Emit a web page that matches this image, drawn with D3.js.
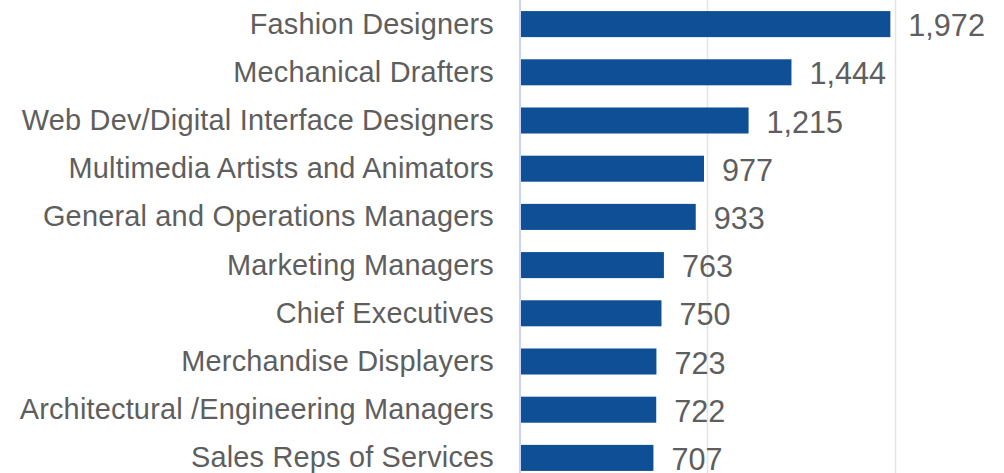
<!DOCTYPE html>
<html>
<head>
<meta charset="utf-8">
<script src="https://cdn.jsdelivr.net/npm/d3@7"></script>
<style>
    body { margin: 0; background: #fff; }
    .cat-label { font-family: "Liberation Sans", Arial, sans-serif; font-size: 28.9px; letter-spacing: 0.2px; fill: #5e5e5e; }
    .val-label { font-family: "Liberation Sans", Arial, sans-serif; font-size: 30.6px; fill: #5e5e5e; }
</style>
</head>
<body>
<div id="chart"></div>
<script>
// data
let occupations = [
    "Fashion Designers",
    "Mechanical Drafters",
    "Web Dev/Digital Interface Designers",
    "Multimedia Artists and Animators",
    "General and Operations Managers",
    "Marketing Managers",
    "Chief Executives",
    "Merchandise Displayers",
    "Architectural /Engineering Managers",
    "Sales Reps of Services"
];
let counts = [1972, 1444, 1215, 977, 933, 763, 750, 723, 722, 707];
let gridTicks = [1000, 2000];

let width = 1004, height = 473;

let svg = d3.select("#chart").append("svg")
    .attr("width", width)
    .attr("height", height);

let x = d3.scaleLinear()
    .domain([0, 2000])
    .range([521, 895.6]);

let y = d3.scaleBand()
    .domain(occupations)
    .range([0, 482])
    .paddingInner(0.46)
    .paddingOuter(0.23);

// gridlines
svg.selectAll(".grid")
    .data(gridTicks)
    .enter().append("line")
    .attr("class", "grid")
    .attr("x1", d => Math.round(x(d)) - 0.5)
    .attr("x2", d => Math.round(x(d)) - 0.5)
    .attr("y1", 0)
    .attr("y2", height)
    .attr("stroke", "#e4e4e4")
    .attr("stroke-width", 1.5);

// bars
svg.selectAll(".bar")
    .data(occupations)
    .enter().append("rect")
    .attr("class", "bar")
    .attr("x", x(0))
    .attr("y", d => y(d))
    .attr("height", y.bandwidth())
    .attr("width", (d, i) => x(counts[i]) - x(0))
    .attr("fill", "#0e4f95");

// category axis line
svg.append("line")
    .attr("x1", 520)
    .attr("x2", 520)
    .attr("y1", 0)
    .attr("y2", height)
    .attr("stroke", "#b7c3f7")
    .attr("stroke-width", 1.5);

// category labels
svg.selectAll(".cat-label")
    .data(occupations)
    .enter().append("text")
    .attr("class", "cat-label")
    .attr("x", 494)
    .attr("y", d => y(d) + y.bandwidth() / 2)
    .attr("dy", "0.33em")
    .attr("text-anchor", "end")
    .text(d => d);

// value labels
svg.selectAll(".val-label")
    .data(occupations)
    .enter().append("text")
    .attr("class", "val-label")
    .attr("x", (d, i) => x(counts[i]) + 18)
    .attr("y", d => y(d) + y.bandwidth() / 2 + 1)
    .attr("dy", "0.36em")
    .text((d, i) => d3.format(",")(counts[i]));
</script>
</body>
</html>
